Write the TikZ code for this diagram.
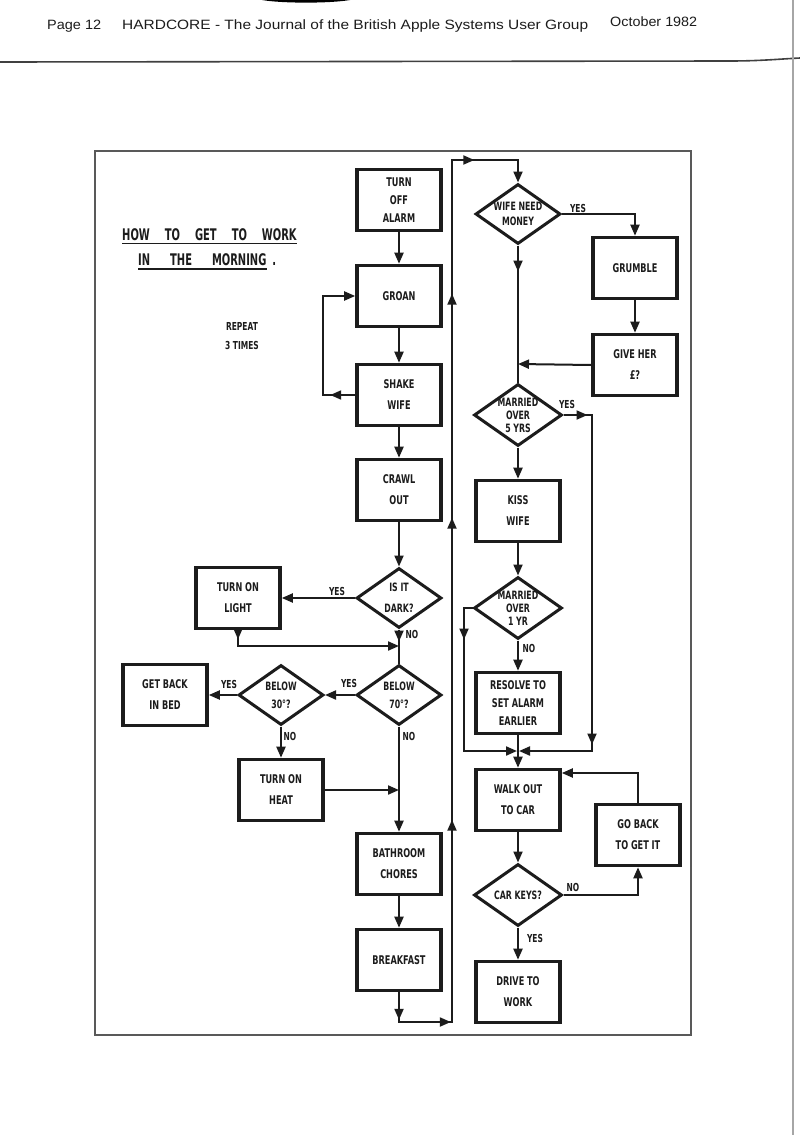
\documentclass[tikz,border=0pt]{standalone}
\usepackage{fontspec}
\usepackage{graphicx}
\usetikzlibrary{arrows.meta,shapes.geometric,decorations.markings}
\newfontfamily\lr[FakeStretch=0.68]{DejaVu Sans}
\newfontfamily\ttl[FakeStretch=0.62]{DejaVu Sans}
\newfontfamily\hdr{Liberation Sans}
\definecolor{ink}{HTML}{1C1C1C}
\newcommand\arrowhd{\arrow{Triangle[length=11pt,width=9pt]}}
\tikzset{
  ln/.style={line width=2pt, draw=ink},
  tip/.style={-{Triangle[length=11pt,width=9pt]}},
  box/.style={draw=ink, line width=3.6pt, minimum width=84pt, minimum height=61pt,
    inner sep=0pt, align=center, text=ink, font=\lr\bfseries\fontsize{12}{21}\selectfont},
  box3/.style={box, font=\lr\bfseries\fontsize{12}{18}\selectfont},
  dia/.style={diamond, draw=ink, line width=3pt, inner sep=0pt, minimum width=85pt, minimum height=60pt},
  dtxt/.style={align=center, inner sep=0pt, text=ink, font=\lr\bfseries\fontsize{11.5}{#1}\selectfont},
  lbl/.style={inner sep=0pt, text=ink, font=\lr\bfseries\fontsize{11}{13}\selectfont},
  ul/.style={line width=1.5pt, draw=ink},
  marks/.style={postaction={decorate}, decoration={markings, #1}},
}
\begin{document}
\begin{tikzpicture}[x=1pt,y=-1pt]
\useasboundingbox (0,0) rectangle (800,1135);
\fill[white] (0,0) rectangle (800,1135);
% page header
\node[anchor=base west, inner sep=0pt, text=ink, font=\hdr\fontsize{13.5}{14}\selectfont] (pg) at (47,29) {\resizebox{54pt}{\height}{Page 12}};
\node[anchor=base west, inner sep=0pt, text=ink, font=\hdr\fontsize{13.5}{14}\selectfont] (jr) at (122,29) {\resizebox{466pt}{\height}{HARDCORE - The Journal of the British Apple Systems User Group}};
\node[anchor=base west, inner sep=0pt, text=ink, font=\hdr\fontsize{13.5}{14}\selectfont] (dt) at (610,27) {\resizebox{87pt}{\height}{October 1982}};
\draw[line width=1.6pt, draw=black!75] (0,62) -- (730,61) .. controls (760,61) and (780,59) .. (800,58);
\draw[line width=2pt, draw=black!35] (793,0) -- (793,1135);
\fill[black] (262,0) -- (350,0) .. controls (330,3.5) and (282,3.5) .. (262,0);
% frame
\draw[line width=1.2pt, draw=black!65] (95,151) rectangle (691,1035);
% title
\node[anchor=base west, inner sep=0pt, text=ink, font=\ttl\bfseries\fontsize{16}{16}\selectfont] (t1) at (122,240)
  {HOW\hspace{15pt}TO\hspace{15pt}GET\hspace{15pt}TO\hspace{15pt}WORK};
\node[anchor=base west, inner sep=0pt, text=ink, font=\ttl\bfseries\fontsize{16}{16}\selectfont] (t2) at (138,265)
  {IN\hspace{20pt}THE\hspace{20pt}MORNING\hspace{6pt}.};
\draw[ul] ([yshift=-3.5pt]t1.base west) -- ([yshift=-3.5pt]t1.base east);
\draw[ul] ([yshift=-4pt]t2.base west) -- ++(129,0);
\node[align=center, inner sep=0pt, text=ink, font=\lr\bfseries\fontsize{11}{19}\selectfont] (rep) at (242,336) {REPEAT\\3 TIMES};
% left column
\node[box3] (alarm) at (399,200) {TURN\\OFF\\ALARM};
\node[box] (groan) at (399,296) {GROAN};
\node[box] (shake) at (399,395) {SHAKE\\WIFE};
\node[box] (crawl) at (399,490) {CRAWL\\OUT};
\node[dia, label={[dtxt=21]center:IS IT\\DARK?}] (dark) at (399,598) {};
\node[box] (light) at (238,598) {TURN ON\\LIGHT};
\coordinate (j1) at (399,646);
\node[dia, label={[dtxt=18]center:BELOW\\70°?}] (b70) at (399,695) {};
\node[dia, label={[dtxt=18]center:BELOW\\30°?}] (b30) at (281,695) {};
\node[box] (bed) at (165,695) {GET BACK\\IN BED};
\node[box] (heat) at (281,790) {TURN ON\\HEAT};
\coordinate (j2) at (399,790);
\node[box] (bath) at (399,864) {BATHROOM\\CHORES};
\node[box] (bfast) at (399,960) {BREAKFAST};
% right column
\node[dia, label={[dtxt=15]center:WIFE NEED\\MONEY}] (wife) at (518,214) {};
\node[box] (grumble) at (635,268) {GRUMBLE};
\node[box] (give) at (635,365) {GIVE HER\\£?};
\coordinate (j3) at (518,364);
\node[dia, minimum height=62pt, minimum width=88pt, label={[dtxt=13]center:MARRIED\\OVER\\5 YRS}] (m5) at (518,415) {};
\node[box] (kiss) at (518,511) {KISS\\WIFE};
\node[dia, minimum height=62pt, minimum width=88pt, label={[dtxt=13]center:MARRIED\\OVER\\1 YR}] (m1) at (518,608) {};
\node[box3] (resolve) at (518,703) {RESOLVE TO\\SET ALARM\\EARLIER};
\coordinate (j4) at (518,751);
\node[box] (walk) at (518,800) {WALK OUT\\TO CAR};
\node[dia, minimum height=62pt, minimum width=88pt, label={[dtxt=15]center:CAR KEYS?}] (keys) at (518,895) {};
\node[box] (goback) at (638,835) {GO BACK\\TO GET IT};
\node[box] (drive) at (518,992) {DRIVE TO\\WORK};
% helper coordinates
\coordinate (l1) at (323,395);
\coordinate (l2) at (323,296);
\coordinate (r1) at (399,1022);
\coordinate (r2) at (452,1022);
\coordinate (r3) at (452,160);
\coordinate (r4) at (518,160);
\coordinate (c5a) at (592,415);
\coordinate (c5b) at (592,751);
\coordinate (c1a) at (464,608);
\coordinate (c1b) at (464,751);
\coordinate (c6) at (637,773);
% connectors left
\draw[ln,tip] (alarm) -- (groan);
\draw[ln,tip] (groan) -- (shake);
\draw[ln,tip,marks={mark=at position 25pt with {\arrowhd}}] (shake.west) -- (l1) -- (l2) -- (groan.west);
\draw[ln,tip] (shake) -- (crawl);
\draw[ln,tip] (crawl) -- (dark);
\draw[ln,tip] (dark.west) -- (light.east);
\draw[ln,tip,marks={mark=at position 9pt with {\arrowhd}}] (light.south) -- (light.south |- j1) -- (j1);
\draw[ln,marks={mark=at position 12pt with {\arrowhd}}] (dark.south) -- (b70.north);
\draw[ln,tip] (b70.west) -- (b30.east);
\draw[ln,tip] (b30.west) -- (bed.east);
\draw[ln,tip] (b30.south) -- (heat.north);
\draw[ln,tip] (b70.south) -- (bath.north);
\draw[ln,tip] (heat.east) -- (j2);
\draw[ln,tip] (bath) -- (bfast);
\draw[ln,tip,marks={mark=at position 27.5pt with {\arrowhd}, mark=at position 81.5pt with {\arrowhd},
   mark=at position 285pt with {\arrowhd}, mark=at position 587pt with {\arrowhd},
   mark=at position 811pt with {\arrowhd}, mark=at position 967pt with {\arrowhd}}]
  (bfast.south) -- (r1) -- (r2) -- (r3) -- (r4) -- (wife.north);
% connectors right
\draw[ln,marks={mark=at position 26pt with {\arrowhd}}] (wife.south) -- (m5.north);
\draw[ln,tip] (give.west) -- (j3);
\draw[ln,tip] (wife.east) -- (wife.east -| grumble.north) -- (grumble.north);
\draw[ln,tip] (grumble) -- (give);
\draw[ln,tip] (m5) -- (kiss);
\draw[ln,tip,shorten >=1pt,marks={mark=at position 24pt with {\arrowhd}, mark=at position 358pt with {\arrowhd}}]
  (m5.east) -- (c5a) -- (c5b) -- (j4);
\draw[ln,tip] (kiss) -- (m1);
\draw[ln,tip,shorten >=1pt,marks={mark=at position 40pt with {\arrowhd}}]
  (m1.west) -- (c1a) -- (c1b) -- (j4);
\draw[ln,tip] (m1) -- (resolve);
\draw[ln] (resolve.south) -- (j4);
\draw[ln,tip] (j4) -- (walk.north);
\draw[ln,tip] (walk) -- (keys);
\draw[ln,tip] (keys.east) -- (keys.east -| goback.south) -- (goback.south);
\draw[ln,tip] (goback.north) -- (goback.north |- c6) -- (walk.east |- c6);
\draw[ln,tip] (keys) -- (drive);
% branch labels
\node[lbl] (y1) at (337,591) {YES};
\node[lbl] (n1) at (412,634) {NO};
\node[lbl] (y2) at (349,683) {YES};
\node[lbl] (y3) at (229,684) {YES};
\node[lbl] (n2) at (290,736) {NO};
\node[lbl] (n3) at (409,736) {NO};
\node[lbl] (y4) at (578,208) {YES};
\node[lbl] (y5) at (567,404) {YES};
\node[lbl] (n4) at (529,648) {NO};
\node[lbl] (n5) at (573,887) {NO};
\node[lbl] (y6) at (535,938) {YES};
\end{tikzpicture}
\end{document}
